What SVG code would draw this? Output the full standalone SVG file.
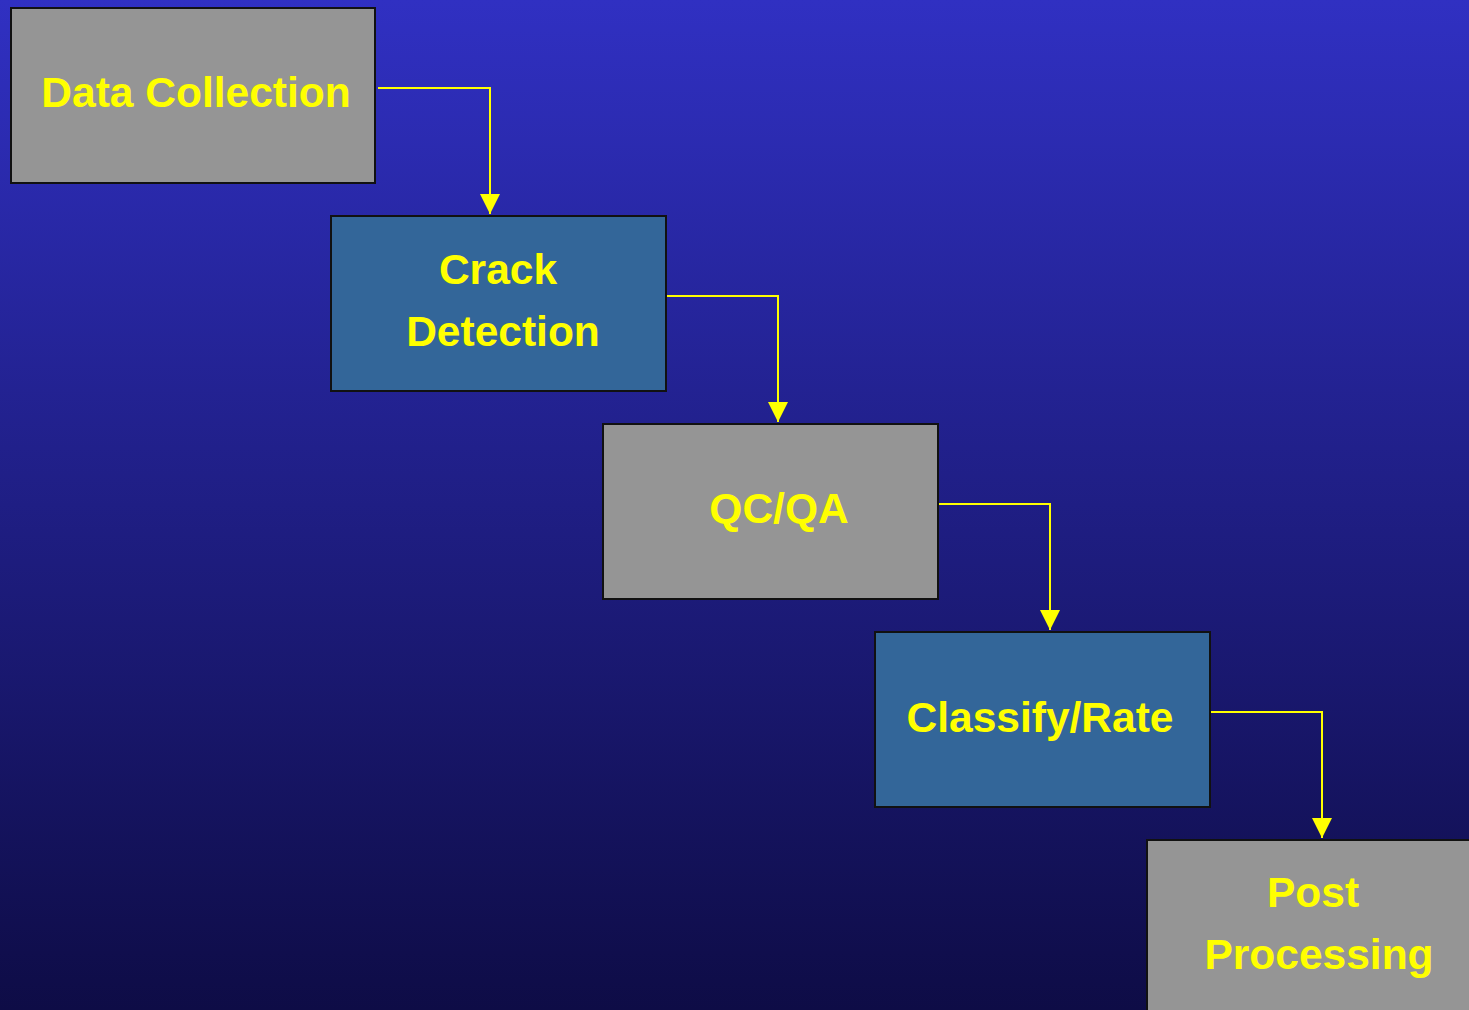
<svg xmlns="http://www.w3.org/2000/svg" width="1469" height="1010" viewBox="0 0 1469 1010">
<defs>
<linearGradient id="bg" x1="0" y1="0" x2="0" y2="1">
<stop offset="0" stop-color="#3030c2"/>
<stop offset="1" stop-color="#0e0c46"/>
</linearGradient>
<marker id="ah" viewBox="0 0 20 20" refX="20" refY="10" markerWidth="20" markerHeight="20" orient="auto" markerUnits="userSpaceOnUse">
<path d="M0,0 L20,10 L0,20 Z" fill="#ffff00"/>
</marker>
</defs>
<style>
.gray{fill:#959595;stroke:#111;stroke-width:2}
.blue{fill:#336699;stroke:#111;stroke-width:2}
.t{font-family:"Liberation Sans",Arial,sans-serif;font-weight:bold;font-size:42.5px;fill:#ffff00;text-anchor:middle}
.c{fill:none;stroke:#ffff00;stroke-width:2}
</style>
<rect x="0" y="0" width="1469" height="1010" fill="url(#bg)"/>
<g id="connectors">
<path class="c" d="M378,88 H490 V214" marker-end="url(#ah)"/>
<path class="c" d="M666,296 H778 V422" marker-end="url(#ah)"/>
<path class="c" d="M938,504 H1050 V630" marker-end="url(#ah)"/>
<path class="c" d="M1210,712 H1322 V838" marker-end="url(#ah)"/>
</g>
<g id="data-collection">
<rect class="gray" x="11" y="8" width="364" height="175"/>
<text class="t" x="196" y="107">Data Collection</text>
</g>
<g id="crack-detection">
<rect class="blue" x="331" y="216" width="335" height="175"/>
<text class="t" x="498" y="284">Crack</text>
<text class="t" x="503" y="346">Detection</text>
</g>
<g id="qcqa">
<rect class="gray" x="603" y="424" width="335" height="175"/>
<text class="t" x="779" y="523">QC/QA</text>
</g>
<g id="classify-rate">
<rect class="blue" x="875" y="632" width="335" height="175"/>
<text class="t" x="1040" y="732">Classify/Rate</text>
</g>
<g id="post-processing">
<rect class="gray" x="1147" y="840" width="335" height="185"/>
<text class="t" x="1313" y="907">Post</text>
<text class="t" x="1319" y="969">Processing</text>
</g>
</svg>
